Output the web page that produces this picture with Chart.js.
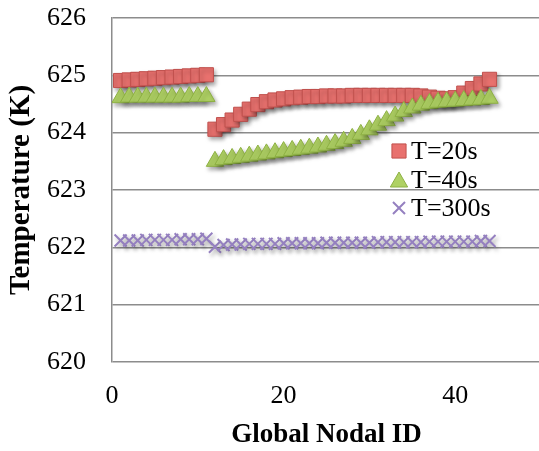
<!DOCTYPE html>
<html>
<head>
<meta charset="utf-8">
<script src="https://cdn.jsdelivr.net/npm/chart.js@4.4.1/dist/chart.umd.min.js"></script>
<style>
  html, body { margin: 0; padding: 0; background: #ffffff; overflow: hidden; width: 539px; height: 451px; }
  #wrap { position: relative; width: 541px; height: 451px; }
</style>
</head>
<body>
<div id="wrap"><canvas id="c" width="541" height="451"></canvas></div>
<script>
// ---- data ----
const nodeIds = [1,2,3,4,5,6,7,8,9,10,11,12,13,14,15,16,17,18,19,20,21,22,23,24,25,26,27,28,29,30,31,32,33,34,35,36,37,38,39,40,41,42,43,44];
const seriesLabels = ['T=20s', 'T=40s', 'T=300s'];
const temp20 = [624.91,624.92,624.93,624.94,624.95,624.96,624.97,624.98,624.99,625.00,625.01,
  624.06,624.14,624.22,624.32,624.41,624.49,624.54,624.57,624.59,624.61,624.62,624.63,624.63,624.64,624.64,624.64,624.65,624.65,624.65,624.65,624.65,624.65,624.65,624.65,624.64,624.62,624.60,624.59,624.61,624.69,624.77,624.85,624.93];
const temp40 = [624.61,624.62,624.62,624.62,624.62,624.62,624.62,624.62,624.63,624.63,624.63,
  623.50,623.53,623.55,623.57,623.59,623.61,623.63,623.65,623.67,623.69,623.71,623.73,623.75,623.78,623.81,623.85,623.90,623.97,624.05,624.13,624.21,624.29,624.37,624.43,624.48,624.51,624.53,624.54,624.55,624.56,624.57,624.58,624.60];
const temp300 = [622.12,622.12,622.12,622.13,622.13,622.13,622.13,622.14,622.14,622.14,622.15,
  622.01,622.04,622.05,622.05,622.06,622.06,622.06,622.06,622.07,622.07,622.07,622.07,622.07,622.08,622.08,622.08,622.08,622.08,622.08,622.09,622.09,622.09,622.09,622.09,622.09,622.10,622.10,622.10,622.10,622.10,622.10,622.11,622.11];
const xTicks = [0, 20, 40];
const yTicks = [620, 621, 622, 623, 624, 625, 626];

const FONT = "'Liberation Serif', 'Times New Roman', serif";
const GRID = '#8c8c8c';

function pts(vals) { return nodeIds.map((id, i) => ({ x: id, y: vals[i] })); }

const shadowPlugin = {
  id: 'shadow',
  beforeDatasetDraw(chart) {
    const ctx = chart.ctx;
    ctx.save();
    ctx.shadowColor = 'rgba(0,0,0,0.35)';
    ctx.shadowBlur = 4;
    ctx.shadowOffsetX = 2;
    ctx.shadowOffsetY = 3;
  },
  afterDatasetDraw(chart) { chart.ctx.restore(); }
};

const legendPlugin = {
  id: 'innerLegend',
  afterDraw(chart) {
    const ctx = chart.ctx;
    const rows = [151, 180, 208];
    const mx = 399, tx = 411;
    ctx.save();
    chart.data.datasets.forEach((ds, i) => {
      const y = rows[i];
      ctx.fillStyle = ds.backgroundColor;
      ctx.strokeStyle = ds.borderColor;
      ctx.lineWidth = ds.borderWidth;
      const yy = ds.pointStyle === 'triangle' ? y + 2 : y;
      Chart.helpers.drawPoint(ctx, { pointStyle: ds.pointStyle, rotation: 0, radius: ds.legendRadius, borderWidth: ds.borderWidth }, mx, yy);
      ctx.fillStyle = '#000';
      ctx.font = "26px " + FONT;
      ctx.textBaseline = 'middle';
      ctx.textAlign = 'left';
      ctx.fillText(ds.label, tx, y + 1);
    });
    ctx.restore();
  }
};

new Chart(document.getElementById('c'), {
  type: 'scatter',
  data: {
    datasets: [
      { label: seriesLabels[0], data: pts(temp20), pointStyle: 'rect', pointRadius: 10, legendRadius: 10,
        backgroundColor: '#E8716E', borderColor: '#C0504D', borderWidth: 1, order: 3 },
      { label: seriesLabels[1], data: pts(temp40), pointStyle: 'triangle', pointRadius: 10, legendRadius: 10,
        backgroundColor: '#AFD164', borderColor: '#8DB043', borderWidth: 1, order: 2 },
      { label: seriesLabels[2], data: pts(temp300), pointStyle: 'crossRot', pointRadius: 8.5, legendRadius: 8.5,
        backgroundColor: '#9580C0', borderColor: '#9580C0', borderWidth: 2, order: 1 }
    ]
  },
  options: {
    responsive: false,
    devicePixelRatio: 1,
    animation: false,
    events: [],
    layout: { autoPadding: false, padding: { top: 18, left: 0, right: 0, bottom: 0 } },
    plugins: { legend: { display: false }, tooltip: { enabled: false } },
    scales: {
      x: {
        type: 'linear', min: 0, max: 50,
        afterBuildTicks(scale) { scale.ticks = xTicks.concat([50]).map(v => ({ value: v })); },
        ticks: { padding: 19, color: '#000', font: { family: FONT, size: 26 },
          callback: (v) => (xTicks.includes(v) ? String(v) : '') },
        grid: { display: false, drawTicks: false },
        border: { display: false },
        title: { display: true, text: 'Global Nodal ID', color: '#000',
          font: { family: FONT, size: 27, weight: 'bold' }, padding: { top: 10, bottom: 0 } },
        afterFit(scale) { scale.height = 89; scale.paddingLeft = 0; scale.paddingRight = 0; }
      },
      y: {
        type: 'linear', min: 620, max: 626,
        afterBuildTicks(scale) { scale.ticks = yTicks.map(v => ({ value: v })); },
        ticks: { padding: 26, color: '#000', font: { family: FONT, size: 26 } },
        grid: { color: GRID, lineWidth: 1.5, drawTicks: false },
        border: { display: true, color: GRID, width: 1.5 },
        title: { display: true, text: 'Temperature (K)', color: '#000',
          font: { family: FONT, size: 29, weight: 'bold' }, padding: { top: 4, bottom: 10 } },
        afterFit(scale) { scale.width = 112; scale.paddingTop = 0; scale.paddingBottom = 0; }
      }
    }
  },
  plugins: [shadowPlugin, legendPlugin]
});
</script>
</body>
</html>
